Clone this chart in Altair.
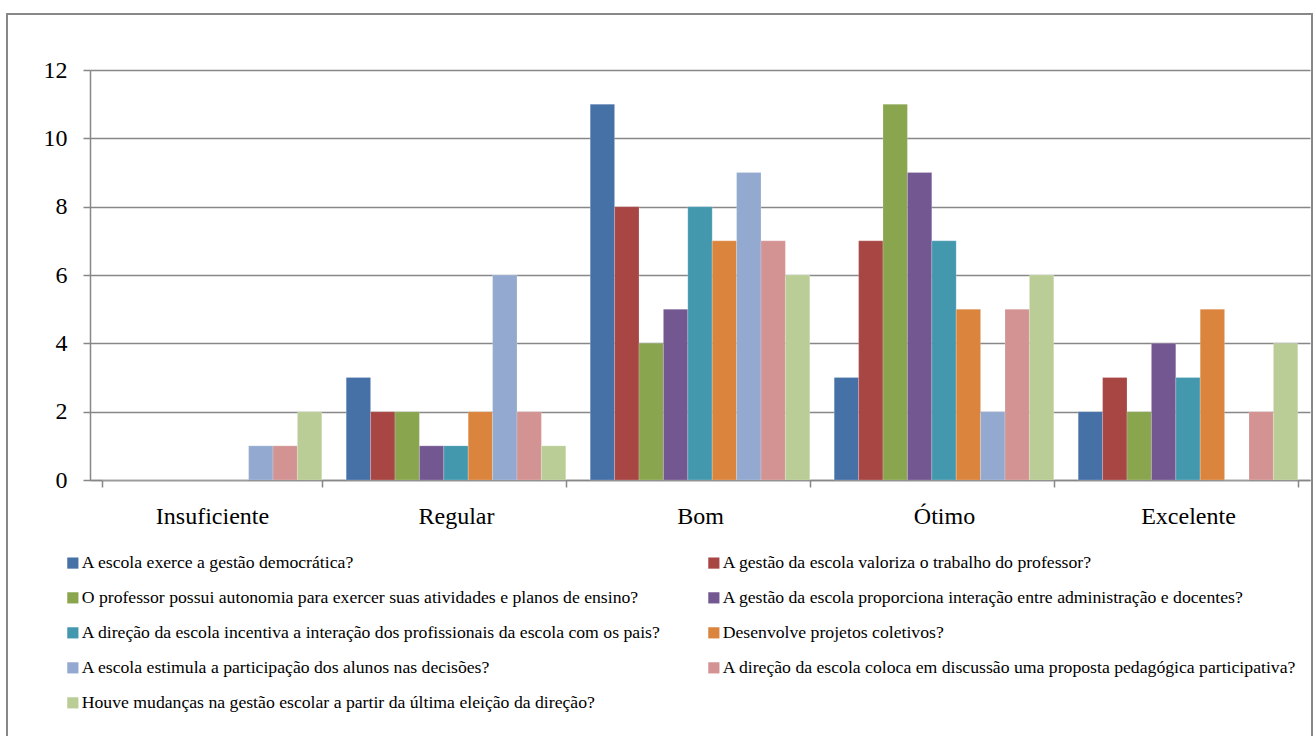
import altair as alt
import pandas as pd

categorias = ["Insuficiente", "Regular", "Bom", "Ótimo", "Excelente"]
series = [
    "A escola exerce a gestão democrática?",
    "A gestão da escola valoriza o trabalho do professor?",
    "O professor possui autonomia para exercer suas atividades e planos de ensino?",
    "A gestão da escola proporciona interação entre administração e docentes?",
    "A direção da escola incentiva a interação dos profissionais da escola com os pais?",
    "Desenvolve projetos coletivos?",
    "A escola estimula a participação dos alunos nas decisões?",
    "A direção da escola coloca em discussão uma proposta pedagógica participativa?",
    "Houve mudanças na gestão escolar a partir da última eleição da direção?",
]
valores = [
    [0, 3, 11, 3, 2],
    [0, 2, 8, 7, 3],
    [0, 2, 4, 11, 2],
    [0, 1, 5, 9, 4],
    [0, 1, 8, 7, 3],
    [0, 2, 7, 5, 5],
    [1, 6, 9, 2, 0],
    [1, 2, 7, 5, 2],
    [2, 1, 6, 6, 4],
]
cores = ["#4571A6", "#A84644", "#89A54E", "#735791", "#4398AE",
         "#DB843D", "#93A9D0", "#D29392", "#BACD96"]

rows = []
for s, vals in zip(series, valores):
    for c, v in zip(categorias, vals):
        rows.append({"categoria": c, "serie": s, "valor": v})
df = pd.DataFrame(rows)

# legend is filled column by column: order so it reads row by row
ordem_legenda = [0, 2, 4, 6, 8, 1, 3, 5, 7]
dominio_legenda = [series[i] for i in ordem_legenda]
cores_legenda = [cores[i] for i in ordem_legenda]

FONT = "Liberation Serif"
GRID = "#878787"

bars = alt.Chart(df).mark_bar(stroke="white", strokeWidth=0.4, strokeOpacity=0.5).encode(
    x=alt.X("categoria:N", sort=categorias,
            scale=alt.Scale(paddingInner=0.1, paddingOuter=0.05),
            axis=alt.Axis(title=None, labelAngle=0, labelFont=FONT, labelFontSize=24,
                          labelColor="black", labelPadding=17, tickBand="extent",
                          tickColor=GRID, tickSize=7, tickWidth=1.5,
                          domainColor=GRID, domainWidth=1.5, grid=False)),
    xOffset=alt.XOffset("serie:N", sort=series, scale=alt.Scale(paddingInner=0, paddingOuter=0)),
    y=alt.Y("valor:Q", scale=alt.Scale(domain=[0, 12], nice=False),
            axis=alt.Axis(title=None, values=[0, 2, 4, 6, 8, 10, 12], labelFont=FONT,
                          labelFontSize=24, labelColor="black", labelPadding=16,
                          tickColor=GRID, tickSize=7, tickWidth=1.5,
                          domainColor=GRID, domainWidth=1.5,
                          gridColor=GRID, gridWidth=1.5)),
    color=alt.Color("serie:N",
                    scale=alt.Scale(domain=dominio_legenda, range=cores_legenda),
                    legend=alt.Legend(title=None, orient="none", legendX=-26, legendY=484,
                                      columns=2, columnPadding=44, rowPadding=16,
                                      symbolType="square", symbolSize=125,
                                      symbolStrokeWidth=0, labelFont=FONT,
                                      labelFontSize=17.7, labelColor="black",
                                      labelOffset=0, labelLimit=0, padding=0)),
)

border = alt.Chart(alt.Data(values=[{}])).mark_rect(
    fill="transparent", stroke="#888888", strokeWidth=2
).encode(
    x=alt.value(-83), x2=alt.value(1222), y=alt.value(-56), y2=alt.value(700)
)

chart = alt.layer(border, bars).properties(
    width=1220, height=410,
    autosize=alt.AutoSizeParams(type="none"),
    padding={"left": 90, "top": 70, "right": 3, "bottom": 256},
).configure(font=FONT).configure_view(strokeWidth=0)

chart.save("out.html", embed_options={"renderer": "svg", "actions": False})
